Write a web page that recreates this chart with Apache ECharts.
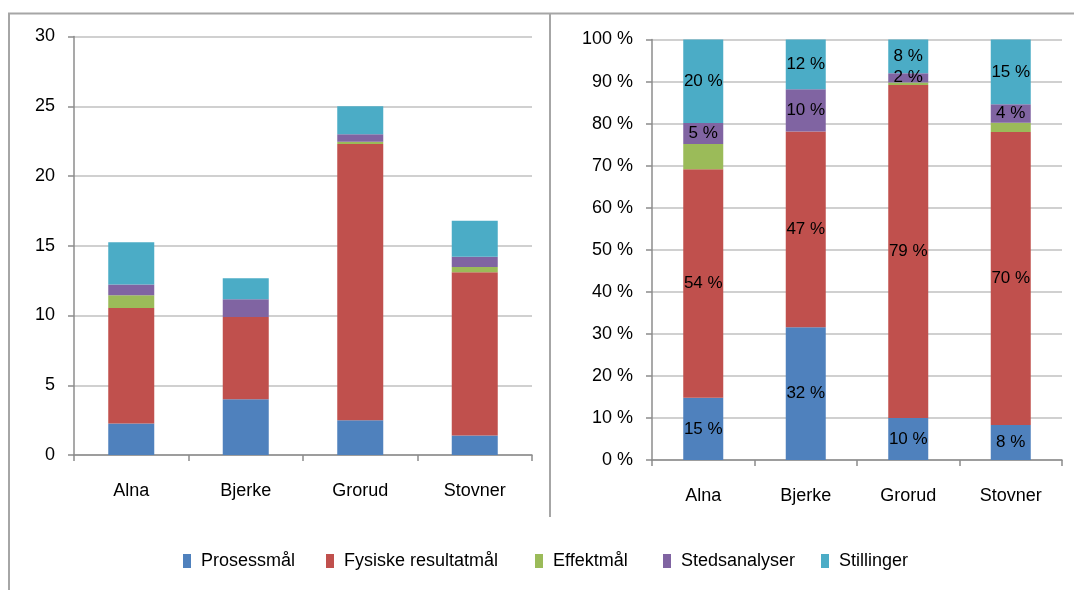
<!DOCTYPE html>
<html>
<head>
<meta charset="utf-8">
<script src="https://cdn.jsdelivr.net/npm/echarts@6/dist/echarts.min.js"></script>
<style>
html,body{margin:0;padding:0;background:#fff;}
#c{width:1074px;height:590px;}
</style>
</head>
<body>
<div id="c"></div>
<script>
// ---- data ----
const categories = ['Alna', 'Bjerke', 'Grorud', 'Stovner'];
const seriesNames = ['Prosessmål', 'Fysiske resultatmål', 'Effektmål', 'Stedsanalyser', 'Stillinger'];
const prosessmal    = [2.26, 4.0, 2.5, 1.4];
const fysiske       = [8.28, 5.9, 19.8, 11.7];
const effektmal     = [0.92, 0, 0.15, 0.37];
const stedsanalyser = [0.76, 1.27, 0.55, 0.74];
const stillinger    = [3.03, 1.5, 2.0, 2.59];
const leftTicks = [0, 5, 10, 15, 20, 25, 30];
const rightTicks = [0, 10, 20, 30, 40, 50, 60, 70, 80, 90, 100];

const colors = ['#4f81bd', '#c0504d', '#9bbb59', '#8064a2', '#4bacc6'];
const values = [prosessmal, fysiske, effektmal, stedsanalyser, stillinger];
const totals = categories.map((_, i) => values.reduce((s, arr) => s + arr[i], 0));
const percents = values.map(arr => arr.map((v, i) => v / totals[i] * 100));
const showLabel = [true, true, false, true, true];

const FONT = '"Liberation Sans", Arial, sans-serif';
const gridLine = { show: true, lineStyle: { color: '#c0c0c0', width: 1.5 } };
const axisLineStyle = { show: true, lineStyle: { color: '#8c8c8c', width: 1.5 } };

const chart = echarts.init(document.getElementById('c'));

const series = [];
seriesNames.forEach((name, k) => {
  series.push({
    name, type: 'bar', stack: 'left', xAxisIndex: 0, yAxisIndex: 0,
    barWidth: 46, data: values[k], itemStyle: { color: colors[k] },
    emphasis: { disabled: true }
  });
});
seriesNames.forEach((name, k) => {
  series.push({
    name, type: 'bar', stack: 'right', xAxisIndex: 1, yAxisIndex: 1,
    barWidth: 40, data: percents[k], itemStyle: { color: colors[k] },
    emphasis: { disabled: true },
    label: {
      show: showLabel[k], position: 'inside', color: '#000',
      fontFamily: FONT, fontSize: 17,
      formatter: p => (p.value > 0 ? Math.round(p.value) + ' %' : '')
    }
  });
});

const legendX = [183, 326, 535, 663, 821];
const legends = seriesNames.map((name, k) => ({
  data: [name], left: legendX[k], top: 552,
  itemWidth: 8, itemHeight: 14, itemGap: 0, padding: 0,
  icon: 'rect', selectedMode: false,
  textStyle: { fontFamily: FONT, fontSize: 18, color: '#000', padding: [0, 0, 0, 5] }
}));

chart.setOption({
  animation: false,
  color: colors,
  legend: legends,
  grid: [
    { left: 74, right: 542, top: 36.5, bottom: 135 },
    { left: 652, right: 12, top: 39.5, bottom: 130 }
  ],
  xAxis: [
    { type: 'category', gridIndex: 0, data: categories,
      axisLine: axisLineStyle,
      axisTick: { show: true, length: 6, lineStyle: { color: '#8c8c8c', width: 1.5 } },
      axisLabel: { margin: 27, fontFamily: FONT, fontSize: 18, color: '#000' } },
    { type: 'category', gridIndex: 1, data: categories,
      axisLine: axisLineStyle,
      axisTick: { show: true, length: 6, lineStyle: { color: '#8c8c8c', width: 1.5 } },
      axisLabel: { margin: 27, fontFamily: FONT, fontSize: 18, color: '#000' } }
  ],
  yAxis: [
    { type: 'value', gridIndex: 0, min: leftTicks[0], max: leftTicks[leftTicks.length - 1], interval: 5,
      axisLine: axisLineStyle,
      axisTick: { show: true, length: 6, lineStyle: { color: '#8c8c8c', width: 1.5 } },
      splitLine: gridLine,
      axisLabel: { margin: 19, fontFamily: FONT, fontSize: 18, color: '#000' } },
    { type: 'value', gridIndex: 1, min: rightTicks[0], max: rightTicks[rightTicks.length - 1], interval: 10,
      axisLine: axisLineStyle,
      axisTick: { show: true, length: 6, lineStyle: { color: '#8c8c8c', width: 1.5 } },
      splitLine: gridLine,
      axisLabel: { margin: 19, fontFamily: FONT, fontSize: 18, color: '#000', formatter: '{value} %' } }
  ],
  graphic: [
    { type: 'line', shape: { x1: 8, y1: 13.5, x2: 1074, y2: 13.5 }, style: { stroke: '#a6a6a6', lineWidth: 2 }, silent: true },
    { type: 'line', shape: { x1: 9, y1: 13.5, x2: 9, y2: 590 }, style: { stroke: '#a6a6a6', lineWidth: 2 }, silent: true },
    { type: 'line', shape: { x1: 550, y1: 13.5, x2: 550, y2: 517 }, style: { stroke: '#a6a6a6', lineWidth: 2 }, silent: true }
  ],
  series
});
</script>
</body>
</html>
